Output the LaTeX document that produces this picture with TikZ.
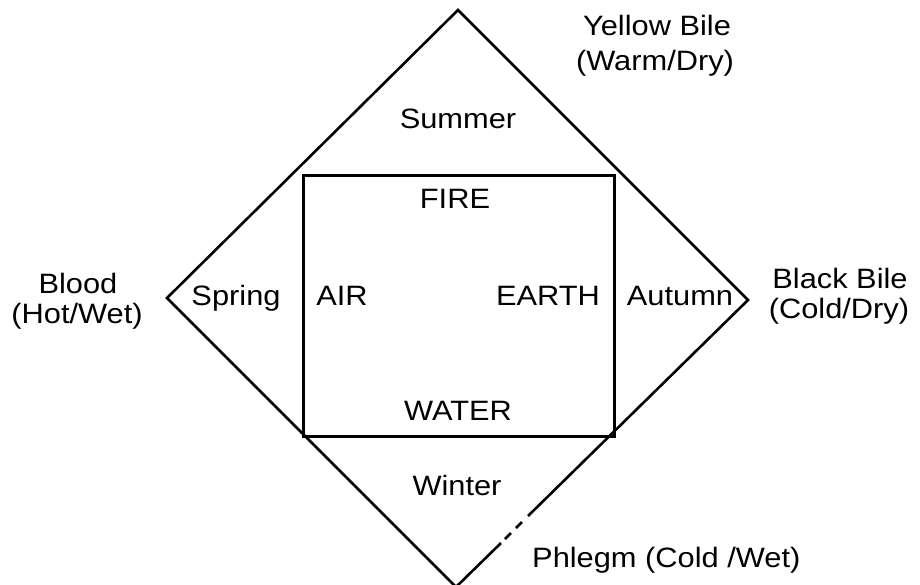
\documentclass[tikz,border=0pt]{standalone}
\usepackage{fontspec}
\setmainfont{Liberation Sans}[FakeStretch=1.1]
\begin{document}
\begin{tikzpicture}[x=1pt,y=-1pt,
  lbl/.style={anchor=base,inner sep=0pt,font=\fontsize{28}{32}\selectfont},
  edge/.style={line width=2.6pt,line cap=butt,line join=miter}]
\useasboundingbox (0,0) rectangle (920,584);
% diamond vertices
\coordinate (T) at (458,10);
\coordinate (L) at (167,298);
\coordinate (R) at (748,300);
\coordinate (B) at (456,587);
\coordinate (G1) at (528,516);
\coordinate (G2) at (522,522);
\coordinate (G3) at (516,528);
\coordinate (G4) at (511,533);
\coordinate (G5) at (505,539);
\draw[edge] (B) -- (L) -- (T) -- (R) -- (G1);
\draw[edge] (G2) -- (G3);
\draw[edge] (G4) -- (G5);
\draw[edge] (G5) ++(-4,4) -- (B);
% square
\node[draw,line width=2.6pt,minimum width=311pt,minimum height=261pt,inner sep=0pt,anchor=north west] (sq) at (302,174) {};
% labels
\node[lbl] (yb1) at (657,35) {Yellow Bile};
\node[lbl] (yb2) at (655,70) {(Warm/Dry)};
\node[lbl] (sum) at (458,128) {Summer};
\node[lbl] (fire) at (455,208) {FIRE};
\node[lbl] (bl1) at (78,293) {Blood};
\node[lbl] (bl2) at (77,323) {(Hot/Wet)};
\node[lbl] (spr) at (236,305) {Spring};
\node[lbl] (air) at (342,305) {AIR};
\node[lbl] (ear) at (548,305) {EARTH};
\node[lbl] (aut) at (680,305) {Autumn};
\node[lbl] (bb1) at (840,288) {Black Bile};
\node[lbl] (bb2) at (839,318) {(Cold/Dry)};
\node[lbl] (wat) at (458,420) {WATER};
\node[lbl] (win) at (457,495) {Winter};
\node[lbl,anchor=base west] (phl) at (532,567) {Phlegm (Cold /Wet)};
\end{tikzpicture}
\end{document}
